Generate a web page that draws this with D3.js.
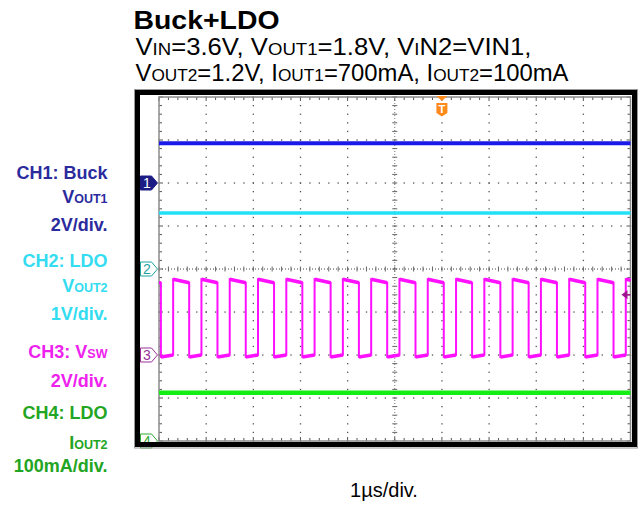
<!DOCTYPE html>
<html><head><meta charset="utf-8">
<script src="https://cdn.jsdelivr.net/npm/d3@7"></script>
<style>html,body{margin:0;padding:0;background:#fff;} svg{display:block;font-family:"Liberation Sans",Arial,Helvetica,sans-serif;}</style>
</head><body><svg id="c" width="640" height="508"></svg>
<script>
// ---------------- data ----------------
const timeDomain = [0, 10];                 // µs (1 µs/div, 10 divisions)
const channelNames = ["CH1", "CH2", "CH3", "CH4"];
const channelOffsetsDiv = [2, 4, 6, 8];     // ground marker, divisions from top
const channelScales = [2, 1, 2, 0.1];       // units per division
const ch1Times = [0, 10];
const ch1Values = [1.85, 1.85];             // V  (Buck VOUT1)
const ch2Times = [0, 10];
const ch2Values = [1.30, 1.30];             // V  (LDO VOUT2)
const ch4Times = [0, 10];
const ch4Values = [0.112, 0.112];           // A  (LDO IOUT2)
const ch3Falling = [0.04, 0.64, 1.24, 1.84, 2.44, 3.04, 3.64, 4.24, 4.84, 5.44, 6.04, 6.64, 7.24, 7.84, 8.44, 9.04, 9.64];
const ch3Rising  = [0.30, 0.90, 1.50, 2.10, 2.70, 3.30, 3.90, 4.50, 5.10, 5.70, 6.30, 6.90, 7.50, 8.10, 8.70, 9.30, 9.90];
const ch3High = [3.52, 3.36];               // V at start / end of on-phase
const ch3Low = [-0.09, 0.0];                // V at start / end of off-phase
const ch3EndValue = 3.48;                   // V at right edge of screen
const triggerTime = 6.0;                    // µs
const triggerLevel = 2.8;                   // V on CH3
const titleText = "Buck+LDO";
const subtitle1 = [["V",0],["IN",1],["=3.6V, V",0],["OUT1",1],["=1.8V, V",0],["I",1],["N2=VIN1,",0]];
const subtitle2 = [["V",0],["OUT2",1],["=1.2V, I",0],["OUT1",1],["=700mA, I",0],["OUT2",1],["=100mA",0]];
const legendLines = [
  {ch:0, parts:[["CH1: Buck",0]]},
  {ch:0, parts:[["V",0],["OUT1",1]]},
  {ch:0, parts:[["2V/div.",0]]},
  {ch:1, parts:[["CH2: LDO",0]]},
  {ch:1, parts:[["V",0],["OUT2",1]]},
  {ch:1, parts:[["1V/div.",0]]},
  {ch:2, parts:[["CH3: V",0],["SW",1]]},
  {ch:2, parts:[["2V/div.",0]]},
  {ch:3, parts:[["CH4: LDO",0]]},
  {ch:3, parts:[["I",0],["OUT2",1]]},
  {ch:3, parts:[["100mA/div.",0]]}
];
const timeLabel = "1µs/div.";

// ---------------- style / layout ----------------
const labelColors = ["#2b2b9e", "#33dcf0", "#ee22ee", "#22a522"];
const traceColors = ["#1a1ae8", "#22e0f5", "#ff10ff", "#14ee14"];
const markerColors = ["#1c1c84", "#1fa3a3", "#993399", "#33aa33"];
const legendBaselines = [178.5, 203.3, 231, 266.7, 291.7, 320, 358.3, 386.7, 419, 449.3, 472];
const plot = {left: 159, right: 630.5, top: 97, bottom: 441};
const nDivX = 10, nDivY = 8;

const svg = d3.select("#c");
const x = d3.scaleLinear().domain(timeDomain).range([plot.left, plot.right]);
const gx = d3.scaleLinear().domain([0, nDivX]).range([plot.left, plot.right]);
const gy = d3.scaleLinear().domain([0, nDivY]).range([plot.top, plot.bottom]);
const yScale = ci => {
  const off = channelOffsetsDiv[ci], s = channelScales[ci];
  return d3.scaleLinear().domain([-(nDivY - off) * s, off * s]).range([plot.bottom, plot.top]);
};
const ys = channelNames.map((_, i) => yScale(i));

// ---------------- title ----------------
svg.append("text").attr("x", 133.5).attr("y", 29)
  .attr("font-size", 25).attr("font-weight", "bold").attr("fill", "#000")
  .attr("textLength", 146).attr("lengthAdjust", "spacingAndGlyphs").text(titleText);
function richText(parent, parts, big, small) {
  parts.forEach(([t, sm]) => parent.append("tspan").attr("font-size", sm ? small : big).text(t));
}
const st1 = svg.append("text").attr("x", 135.5).attr("y", 55).attr("fill", "#000")
  .attr("textLength", 396).attr("lengthAdjust", "spacingAndGlyphs");
richText(st1, subtitle1, 23.5, 17);
const st2 = svg.append("text").attr("x", 135.5).attr("y", 80.5).attr("fill", "#000")
  .attr("textLength", 433).attr("lengthAdjust", "spacingAndGlyphs");
richText(st2, subtitle2, 23.5, 17);

// ---------------- legend (left) ----------------
legendLines.forEach((l, i) => {
  const t = svg.append("text").attr("x", 107.5).attr("y", legendBaselines[i])
    .attr("text-anchor", "end").attr("font-weight", "bold").attr("fill", labelColors[l.ch]);
  richText(t, l.parts, 18, 12.5);
});

// ---------------- grid ----------------
const grid = svg.append("g");
const minorX = d3.range(0, nDivX * 5 + 1).map(m => m / 5);
const minorY = d3.range(0, nDivY * 5 + 1).map(m => m / 5);
for (let i = 1; i < nDivX; i++) {
  if (i === nDivX / 2) continue;
  minorY.forEach(v => grid.append("rect").attr("x", gx(i) - 0.6).attr("y", gy(v) - 0.6)
    .attr("width", 1.3).attr("height", 1.3).attr("fill", "#555"));
}
for (let k = 1; k < nDivY; k++) {
  if (k === nDivY / 2) continue;
  minorX.forEach(v => grid.append("rect").attr("x", gx(v) - 0.6).attr("y", gy(k) - 0.6)
    .attr("width", 1.3).attr("height", 1.3).attr("fill", "#555"));
}
// centre lines
grid.append("line").attr("x1", gx(5)).attr("x2", gx(5)).attr("y1", plot.top).attr("y2", plot.bottom)
  .attr("stroke", "#777").attr("stroke-width", 1).attr("stroke-dasharray", "1,2");
grid.append("line").attr("y1", gy(4)).attr("y2", gy(4)).attr("x1", plot.left).attr("x2", plot.right)
  .attr("stroke", "#444").attr("stroke-width", 1).attr("stroke-dasharray", "1,2");
minorY.forEach(v => grid.append("line").attr("x1", gx(5) - 2.5).attr("x2", gx(5) + 2.5)
  .attr("y1", gy(v)).attr("y2", gy(v)).attr("stroke", "#666").attr("stroke-width", 1));
minorX.forEach(v => grid.append("line").attr("y1", gy(4) - 2.5).attr("y2", gy(4) + 2.5)
  .attr("x1", gx(v)).attr("x2", gx(v)).attr("stroke", "#666").attr("stroke-width", 1));
// edge ticks
minorX.forEach(v => {
  const L = Number.isInteger(v) ? 4 : 3;
  grid.append("line").attr("x1", gx(v)).attr("x2", gx(v)).attr("y1", plot.top).attr("y2", plot.top + L).attr("stroke", "#555");
  grid.append("line").attr("x1", gx(v)).attr("x2", gx(v)).attr("y1", plot.bottom).attr("y2", plot.bottom - L).attr("stroke", "#555");
});
minorY.forEach(v => {
  const L = Number.isInteger(v) ? 4 : 3;
  grid.append("line").attr("y1", gy(v)).attr("y2", gy(v)).attr("x1", plot.left).attr("x2", plot.left + L).attr("stroke", "#555");
  grid.append("line").attr("y1", gy(v)).attr("y2", gy(v)).attr("x1", plot.right).attr("x2", plot.right - L).attr("stroke", "#555");
});
grid.append("rect").attr("x", plot.left).attr("y", plot.top).attr("width", plot.right - plot.left)
  .attr("height", plot.bottom - plot.top).attr("fill", "none").attr("stroke", "#8a8a8a").attr("stroke-width", 1.5);

// ---------------- traces ----------------
const traces = svg.append("g");
function flatTrace(times, vals, ci, w) {
  const line = d3.line().x(d => x(d[0])).y(d => ys[ci](d[1]));
  traces.append("path").attr("d", line(times.map((t, i) => [t, vals[i]])))
    .attr("fill", "none").attr("stroke", traceColors[ci]).attr("stroke-width", w);
}
flatTrace(ch1Times, ch1Values, 0, 4);
flatTrace(ch2Times, ch2Values, 1, 3.5);
flatTrace(ch4Times, ch4Values, 3, 4.5);

// CH3 switching node
const sw = [[timeDomain[0], ch3High[1]]];
ch3Falling.forEach((tf, i) => {
  const tr = ch3Rising[i];
  sw.push([tf, ch3High[1]], [tf, ch3Low[0]], [tr, ch3Low[1]], [tr, ch3High[0]]);
});
sw.push([timeDomain[1], ch3EndValue]);
const swLine = d3.line().x(d => x(d[0])).y(d => ys[2](d[1]));
traces.append("path").attr("d", swLine(sw)).attr("fill", "none")
  .attr("stroke", traceColors[2]).attr("stroke-width", 2);
// thicker noisy plateaus
for (let i = 0; i < sw.length - 1; i++) {
  const a = sw[i], b = sw[i + 1];
  if (b[0] > a[0]) traces.append("line").attr("x1", x(a[0])).attr("x2", x(b[0]))
    .attr("y1", ys[2](a[1])).attr("y2", ys[2](b[1])).attr("stroke", traceColors[2]).attr("stroke-width", 3.5);
}

// ---------------- markers ----------------
const markers = svg.append("g");
channelNames.forEach((n, ci) => {
  const yc = ys[ci](0);
  const x0 = 140.5, x1 = 151.5, xt = 157.5, h = 7;
  const p = d3.path();
  p.moveTo(x0, yc - h); p.lineTo(x1, yc - h); p.lineTo(xt, yc); p.lineTo(x1, yc + h); p.lineTo(x0, yc + h); p.closePath();
  const filled = ci === 0;
  markers.append("path").attr("d", p.toString())
    .attr("fill", filled ? markerColors[ci] : "#fff").attr("stroke", markerColors[ci]).attr("stroke-width", 1);
  markers.append("text").attr("x", 147).attr("y", yc + 5).attr("text-anchor", "middle")
    .attr("font-size", 14).attr("fill", filled ? "#fff" : markerColors[ci]).text(n.slice(2));
});
// trigger position
const tx = x(triggerTime);
markers.append("path").attr("d", `M${tx - 5.5},${plot.top - 1}L${tx + 5.5},${plot.top - 1}L${tx},${plot.top + 4}Z`).attr("fill", "#ff8a1c");
markers.append("path").attr("d", `M${tx - 5.5},${plot.top + 6}L${tx + 5.5},${plot.top + 6}L${tx + 5.5},${plot.top + 16}L${tx},${plot.top + 19.5}L${tx - 5.5},${plot.top + 16}Z`).attr("fill", "#ff8a1c");
markers.append("text").attr("x", tx).attr("y", plot.top + 16).attr("text-anchor", "middle")
  .attr("font-size", 11).attr("font-weight", "bold").attr("fill", "#fff").text("T");
// trigger level
const ty = ys[2](triggerLevel);
markers.append("path").attr("d", `M${plot.right - 9},${ty}L${plot.right - 3},${ty - 4.5}L${plot.right - 3},${ty + 4.5}Z`).attr("fill", "#a0138e");
markers.append("line").attr("x1", plot.right - 4).attr("x2", plot.right).attr("y1", ty).attr("y2", ty).attr("stroke", "#a0138e").attr("stroke-width", 1.5);

// ---------------- frame ----------------
svg.append("rect").attr("x", 134.5).attr("y", 89.5).attr("width", 503).attr("height", 358.5)
  .attr("fill", "none").attr("stroke", "#999").attr("stroke-width", 1);
svg.append("rect").attr("x", 137.5).attr("y", 92.5).attr("width", 497).attr("height", 352)
  .attr("fill", "none").attr("stroke", "#000").attr("stroke-width", 5);

// ---------------- time label ----------------
svg.append("text").attr("x", 384).attr("y", 497).attr("text-anchor", "middle")
  .attr("font-size", 20).attr("fill", "#000").text(timeLabel);
</script></body></html>
